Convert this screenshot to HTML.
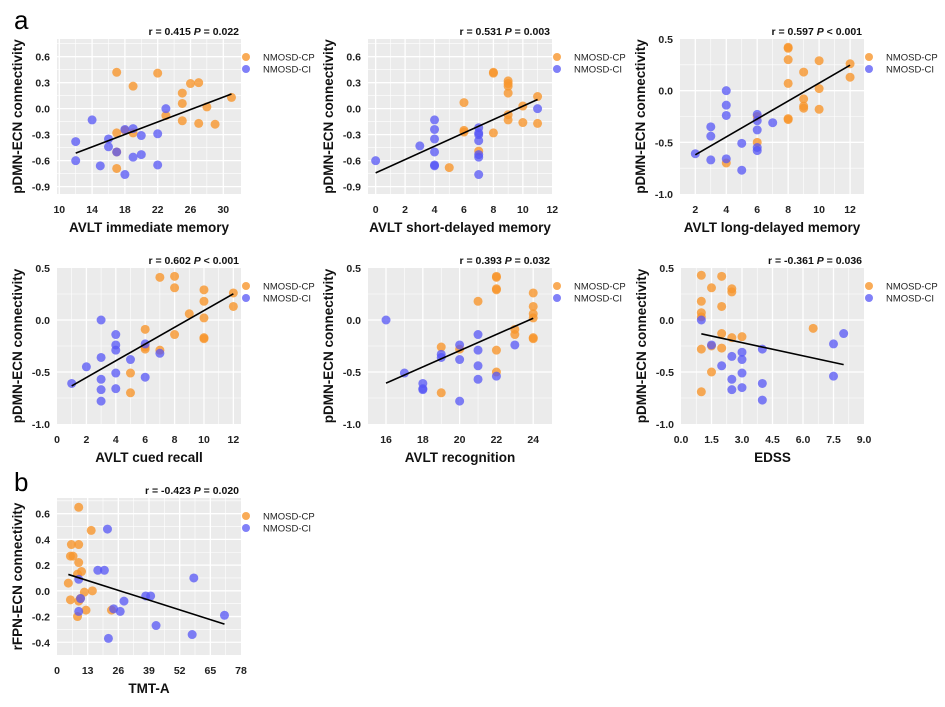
<!DOCTYPE html>
<html><head><meta charset="utf-8">
<style>
html,body{margin:0;padding:0;background:#fff;}
svg{display:block;font-family:"Liberation Sans",Arial,sans-serif;}
</style></head>
<body>
<svg id="fig" width="945" height="707" viewBox="0 0 945 707">
<text x="14" y="29" font-size="26">a</text>
<text x="14" y="491" font-size="26">b</text>
</svg>
<script>
// ---- Panel 1: AVLT immediate memory ----
const p1CpX=[17,22,19,26,27,25,25,31,28,23,25,27,29,17,18,19,17,17];
const p1CpY=[0.42,0.41,0.26,0.29,0.30,0.18,0.06,0.13,0.02,-0.08,-0.14,-0.17,-0.18,-0.28,-0.25,-0.28,-0.50,-0.69];
const p1CiX=[23,14,18,19,20,22,12,16,16,17,19,20,12,15,22,18];
const p1CiY=[0.0,-0.13,-0.24,-0.23,-0.31,-0.29,-0.38,-0.35,-0.44,-0.50,-0.56,-0.53,-0.60,-0.66,-0.65,-0.76];
const p1XTicks=[10,14,18,22,26,30];
const p1YTicks=[-0.9,-0.6,-0.3,0.0,0.3,0.6];
// ---- Panel 2: AVLT short-delayed memory ----
const p2CpX=[8,8,9,9,9,9,6,11,10,9,9,10,11,6,6,8,7,5];
const p2CpY=[0.42,0.41,0.32,0.29,0.26,0.18,0.07,0.14,0.03,-0.07,-0.13,-0.16,-0.17,-0.25,-0.27,-0.28,-0.49,-0.68];
const p2CiX=[11,4,4,4,3,4,4,4,0,7,7,7,7,7,7,7];
const p2CiY=[0.0,-0.13,-0.24,-0.35,-0.43,-0.50,-0.65,-0.66,-0.60,-0.22,-0.28,-0.30,-0.37,-0.53,-0.56,-0.76];
const p2XTicks=[0,2,4,6,8,10,12];
const p2YTicks=[-0.9,-0.6,-0.3,0.0,0.3,0.6];
// ---- Panel 3: AVLT long-delayed memory ----
const p3CpX=[8,8,8,10,12,9,12,8,10,9,9,9,10,8,8,6,6,4];
const p3CpY=[0.42,0.41,0.30,0.29,0.26,0.18,0.13,0.07,0.02,-0.08,-0.15,-0.17,-0.18,-0.27,-0.28,-0.25,-0.50,-0.70];
const p3CiX=[4,4,4,6,6,6,7,3,3,5,6,6,4,2,3,5];
const p3CiY=[0.0,-0.14,-0.24,-0.23,-0.29,-0.38,-0.31,-0.35,-0.44,-0.51,-0.55,-0.58,-0.66,-0.61,-0.67,-0.77];
const p3XTicks=[2,4,6,8,10,12];
const p3YTicks=[-1.0,-0.5,0.0,0.5];
// ---- Panel 4: AVLT cued recall ----
const p4CpX=[7,8,8,10,12,10,12,9,10,6,8,10,10,6,6,7,5,5];
const p4CpY=[0.41,0.42,0.31,0.29,0.26,0.18,0.13,0.06,0.02,-0.09,-0.14,-0.17,-0.18,-0.26,-0.28,-0.29,-0.51,-0.70];
const p4CiX=[3,4,4,4,6,7,3,5,2,4,3,6,3,4,3,1];
const p4CiY=[0.0,-0.14,-0.24,-0.29,-0.23,-0.32,-0.36,-0.38,-0.45,-0.51,-0.57,-0.55,-0.67,-0.66,-0.78,-0.61];
const p4XTicks=[0,2,4,6,8,10,12];
const p4YTicks=[-1.0,-0.5,0.0,0.5];
// ---- Panel 5: AVLT recognition ----
const p5CpX=[22,22,22,22,21,24,24,24,24,23,23,24,24,19,20,22,22,19];
const p5CpY=[0.42,0.41,0.30,0.29,0.18,0.26,0.13,0.06,0.02,-0.09,-0.14,-0.17,-0.18,-0.26,-0.28,-0.29,-0.50,-0.70];
const p5CiX=[16,21,20,21,23,19,19,20,21,17,21,22,18,18,18,20];
const p5CiY=[0.0,-0.14,-0.24,-0.29,-0.24,-0.33,-0.36,-0.38,-0.44,-0.51,-0.57,-0.54,-0.61,-0.66,-0.67,-0.78];
const p5XTicks=[16,18,20,22,24];
const p5YTicks=[-1.0,-0.5,0.0,0.5];
// ---- Panel 6: EDSS ----
const p6CpX=[1,2,1.5,2.5,2.5,1,2,1,1,2,2.5,3,1.5,1,2,1.5,1,6.5];
const p6CpY=[0.43,0.42,0.31,0.30,0.27,0.18,0.13,0.07,0.03,-0.13,-0.17,-0.16,-0.25,-0.28,-0.27,-0.50,-0.69,-0.08];
const p6CiX=[1,1.5,2.5,3,3,4,2,2.5,3,2.5,3,4,4,7.5,8,7.5];
const p6CiY=[0.0,-0.24,-0.35,-0.31,-0.38,-0.28,-0.44,-0.57,-0.51,-0.67,-0.65,-0.61,-0.77,-0.23,-0.13,-0.54];
const p6XTicks=[0,1.5,3,4.5,6,7.5,9];
const p6YTicks=[-1.0,-0.5,0.0,0.5];
// ---- Panel b: TMT-A ----
const pbCpX=[9.2,14.5,6.1,9.2,5.7,6.8,9.2,8.7,10.4,4.8,11.6,15,9.9,5.7,9.2,12.3,23.1,8.7];
const pbCpY=[0.65,0.47,0.36,0.36,0.27,0.27,0.22,0.13,0.15,0.06,-0.01,0.0,-0.06,-0.07,-0.08,-0.15,-0.15,-0.20];
const pbCiX=[21.4,17.3,20.1,9.2,58,10,28.4,37.6,39.7,24,26.8,9.2,42,21.8,57.3,71];
const pbCiY=[0.48,0.16,0.16,0.09,0.10,-0.06,-0.08,-0.04,-0.04,-0.14,-0.16,-0.16,-0.27,-0.37,-0.34,-0.19];
const pbXTicks=[0,13,26,39,52,65,78];
const pbYTicks=[-0.4,-0.2,0.0,0.2,0.4,0.6];

const NS='http://www.w3.org/2000/svg';
const svg=document.getElementById('fig');
function mk(tag,attrs,parent){const e=document.createElementNS(NS,tag);for(const k in attrs)e.setAttribute(k,attrs[k]);(parent||svg).appendChild(e);return e;}

const panels=[
 {id:'p1',box:[57,39,184,155],xr:[9.72,32.16],yr:[-0.985,0.804],xt:p1XTicks,yt:p1YTicks,xd:0,yd:1,cpx:p1CpX,cpy:p1CpY,cix:p1CiX,ciy:p1CiY,xl:'AVLT immediate memory',yl:'pDMN-ECN connectivity',r:'r = 0.415 ',p:' = 0.022'},
 {id:'p2',box:[368,39,184,155],xr:[-0.52,11.98],yr:[-0.985,0.804],xt:p2XTicks,yt:p2YTicks,xd:0,yd:1,cpx:p2CpX,cpy:p2CpY,cix:p2CiX,ciy:p2CiY,xl:'AVLT  short-delayed memory',yl:'pDMN-ECN connectivity',r:'r = 0.531 ',p:' = 0.003'},
 {id:'p3',box:[680,39,184,155],xr:[1.01,12.9],yr:[-1.0,0.5],xt:p3XTicks,yt:p3YTicks,xd:0,yd:1,cpx:p3CpX,cpy:p3CpY,cix:p3CiX,ciy:p3CiY,xl:'AVLT  long-delayed memory',yl:'pDMN-ECN connectivity',r:'r = 0.597 ',p:' < 0.001'},
 {id:'p4',box:[57,268,184,156],xr:[0,12.52],yr:[-1.0,0.5],xt:p4XTicks,yt:p4YTicks,xd:0,yd:1,cpx:p4CpX,cpy:p4CpY,cix:p4CiX,ciy:p4CiY,xl:'AVLT  cued recall',yl:'pDMN-ECN connectivity',r:'r = 0.602 ',p:' < 0.001'},
 {id:'p5',box:[368,268,184,156],xr:[15.02,25.02],yr:[-1.0,0.5],xt:p5XTicks,yt:p5YTicks,xd:0,yd:1,cpx:p5CpX,cpy:p5CpY,cix:p5CiX,ciy:p5CiY,xl:'AVLT  recognition',yl:'pDMN-ECN connectivity',r:'r = 0.393 ',p:' = 0.032'},
 {id:'p6',box:[681,268,183,156],xr:[0,9],yr:[-1.0,0.5],xt:p6XTicks,yt:p6YTicks,xd:1,yd:1,cpx:p6CpX,cpy:p6CpY,cix:p6CiX,ciy:p6CiY,xl:'EDSS',yl:'pDMN-ECN connectivity',r:'r = -0.361 ',p:' = 0.036'},
 {id:'pb',box:[57,498,184,157],xr:[0,78],yr:[-0.499,0.722],xt:pbXTicks,yt:pbYTicks,xd:0,yd:1,cpx:pbCpX,cpy:pbCpY,cix:pbCiX,ciy:pbCiY,xl:'TMT-A',yl:'rFPN-ECN connectivity',r:'r = -0.423 ',p:' = 0.020'}
];

panels.forEach(P=>{
 const [bx,by,bw,bh]=P.box;
 const g=mk('g',{});
 
 
 const sx=v=>bx+(v-P.xr[0])/(P.xr[1]-P.xr[0])*bw;
 const sy=v=>by+bh-(v-P.yr[0])/(P.yr[1]-P.yr[0])*bh;
 const bg=mk('rect',{x:bx,y:by,width:bw,height:bh,fill:'#ebebeb'},g);
 
 
 // minor gridlines
 const dx=P.xt[1]-P.xt[0], dy=P.yt[1]-P.yt[0];
 for(let i=0;i<P.xt.length-1;i++){const X=sx(P.xt[i]+dx/2);if(X>bx&&X<bx+bw){mk('line',{x1:X,x2:X,y1:by,y2:by+bh,stroke:'#fff','stroke-width':0.6},g);}}
 for(let i=-1;i<P.yt.length;i++){const v=(i<0?P.yt[0]-dy/2:P.yt[i]+dy/2);const Y=sy(v);if(Y>by&&Y<by+bh){mk('line',{x1:bx,x2:bx+bw,y1:Y,y2:Y,stroke:'#fff','stroke-width':0.6},g);}}
 // major gridlines + tick labels
 P.xt.forEach(v=>{const X=sx(v);
  if(X>bx+0.5&&X<bx+bw-0.5)mk('line',{x1:X,x2:X,y1:by,y2:by+bh,stroke:'#fff','stroke-width':1.3},g);
  const t=mk('text',{x:X,y:by+bh+19,'font-size':10.5,'font-weight':'bold','text-anchor':'middle',fill:'#222'},g);
  t.textContent=v.toFixed(P.xd);
  
  
 });
 P.yt.forEach(v=>{const Y=sy(v);
  if(Y>by+0.5&&Y<by+bh-0.5)mk('line',{x1:bx,x2:bx+bw,y1:Y,y2:Y,stroke:'#fff','stroke-width':1.3},g);
  const t=mk('text',{x:bx-7,y:Y+4,'font-size':10.5,'font-weight':'bold','text-anchor':'end',fill:'#222'},g);
  t.textContent=v.toFixed(P.yd);
  
  
 });
 // points
 const drawPts=(xs,ys,col,name)=>{xs.forEach((x,i)=>{
  const c=mk('circle',{cx:sx(x),cy:sy(ys[i]),r:4.5,fill:col},g);
  
  
 });};
 drawPts(P.cpx,P.cpy,'rgba(247,150,45,0.8)','point-nmosd-cp');
 drawPts(P.cix,P.ciy,'rgba(85,85,245,0.75)','point-nmosd-ci');
 // regression line (least squares on all points)
 const X=P.cpx.concat(P.cix), Y=P.cpy.concat(P.ciy);
 const n=X.length, mx=X.reduce((a,b)=>a+b,0)/n, my=Y.reduce((a,b)=>a+b,0)/n;
 let sxy=0,sxx=0;for(let i=0;i<n;i++){sxy+=(X[i]-mx)*(Y[i]-my);sxx+=(X[i]-mx)*(X[i]-mx);}
 const b=sxy/sxx,a=my-b*mx, x0=Math.min(...X), x1=Math.max(...X);
 const ln=mk('line',{x1:sx(x0),y1:sy(a+b*x0),x2:sx(x1),y2:sy(a+b*x1),stroke:'#000','stroke-width':1.6},g);
 
 
 // stats title
 const tt=mk('text',{x:bx+bw-2,y:by-4,'font-size':10.5,'font-weight':'bold','text-anchor':'end',fill:'#111'},g);
 
 
 const s1=mk('tspan',{},tt);s1.textContent=P.r;
 const s2=mk('tspan',{'font-style':'italic'},tt);s2.textContent='P';
 const s3=mk('tspan',{},tt);s3.textContent=P.p;
 // axis titles
 const xt=mk('text',{x:bx+bw/2,y:by+bh+38,'font-size':13.5,'font-weight':'bold','text-anchor':'middle',fill:'#111'},g);
 xt.textContent=P.xl;
 
 
 const yx=bx-35, yy=by+bh/2;
 const yt=mk('text',{x:yx,y:yy,'font-size':13.5,'font-weight':'bold','text-anchor':'middle',fill:'#111',transform:'rotate(-90 '+yx+' '+yy+')'},g);
 yt.textContent=P.yl;
 
 
 // legend
 [['NMOSD-CP','rgba(247,150,45,0.8)'],['NMOSD-CI','rgba(85,85,245,0.75)']].forEach((L,i)=>{
  const ly=by+18+i*12;
  const lg=mk('g',{},g);
  
  
  mk('circle',{cx:bx+bw+5,cy:ly,r:4,fill:L[1]},lg);
  const lt=mk('text',{x:bx+bw+22,y:ly+3.5,'font-size':9.5,fill:'#222'},lg);
  lt.textContent=L[0];
 });
});
</script>
</body></html>
